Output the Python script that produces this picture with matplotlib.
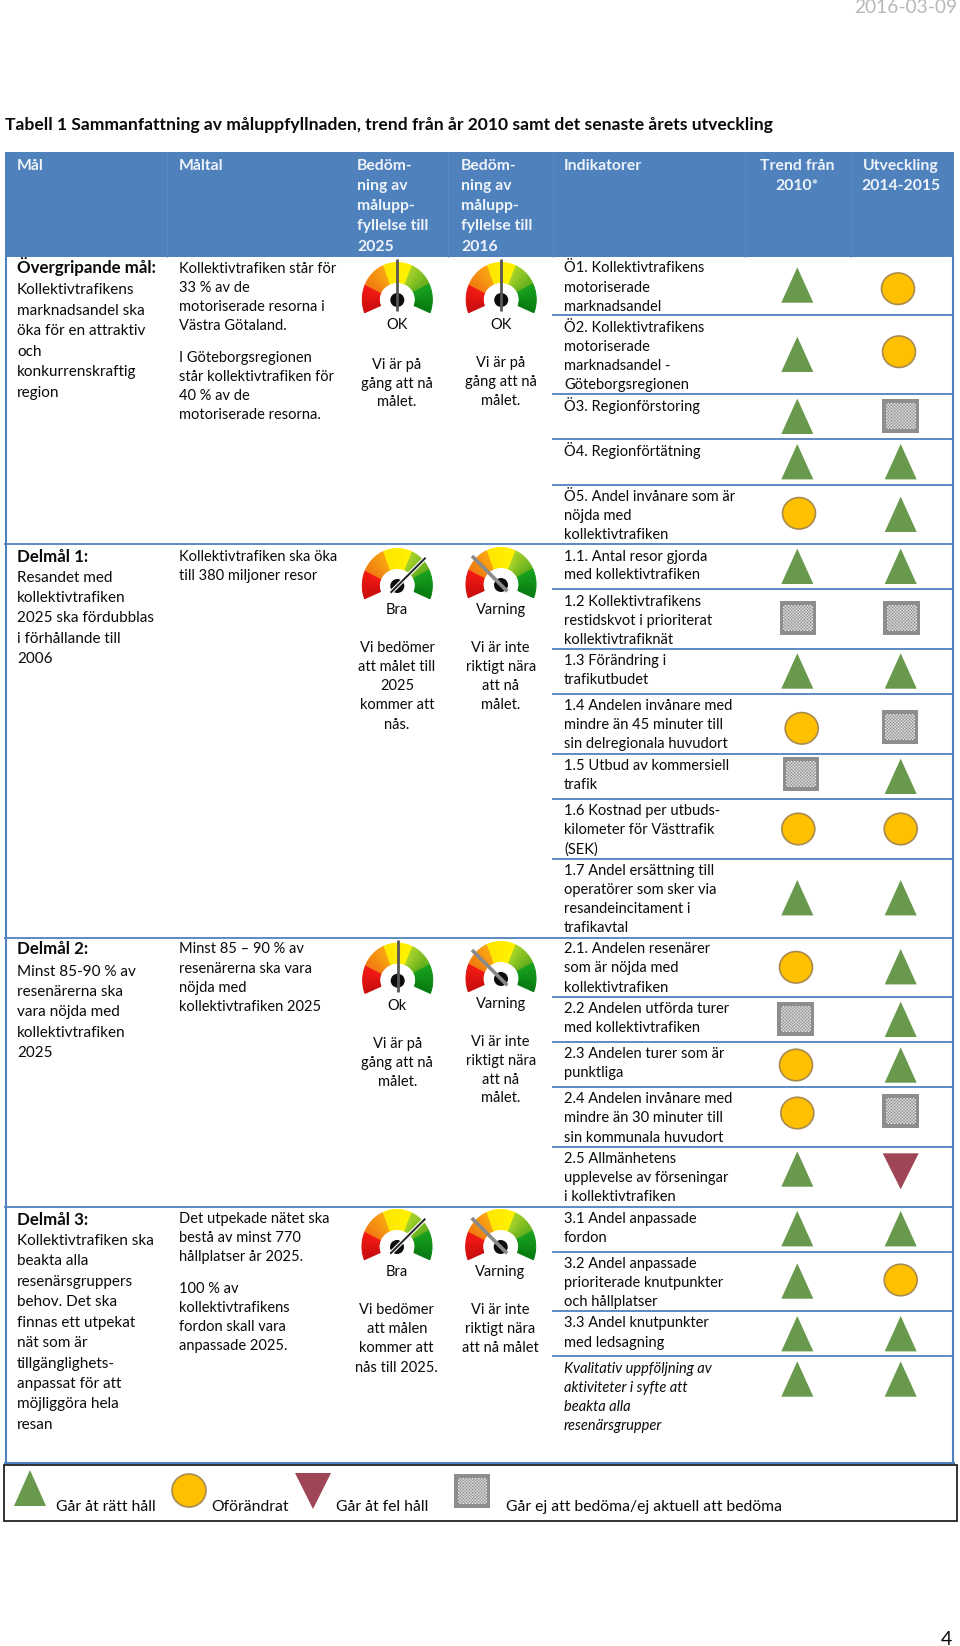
import numpy as np
import matplotlib
matplotlib.use("Agg")
import matplotlib.pyplot as plt
from matplotlib.patches import Polygon, Circle, Rectangle, Ellipse

plt.rcParams['font.family'] = ['Lato', 'DejaVu Sans']

# ---------- content ----------
TITLE = "Tabell 1 Sammanfattning av måluppfyllnaden, trend från år 2010 samt det senaste årets utveckling"
DATE = "2016-03-09"
PAGE = "4"

header_assess = [["Bedöm-", "ning av", "målupp-", "fyllelse till", "2025"],
                 ["Bedöm-", "ning av", "målupp-", "fyllelse till", "2016"]]
header_ind = "Indikatorer"
header_trend = ["Trend från", "2010*"]
header_utv = ["Utveckling", "2014-2015"]

goal_cells = [
    ["Övergripande mål:", "Kollektivtrafikens", "marknadsandel ska", "öka för en attraktiv", "och",
     "konkurrenskraftig", "region"],
    ["Delmål 1:", "Resandet med", "kollektivtrafiken", "2025 ska fördubblas", "i förhållande till", "2006"],
    ["Delmål 2:", "Minst 85-90 % av", "resenärerna ska", "vara nöjda med", "kollektivtrafiken", "2025"],
    ["Delmål 3:", "Kollektivtrafiken ska", "beakta alla", "resenärsgruppers", "behov. Det ska",
     "finnas ett utpekat", "nät som är", "tillgänglighets-", "anpassat för att", "möjliggöra hela", "resan"],
]
target_cells = [
    ["Kollektivtrafiken står för", "33 % av de", "motoriserade resorna i", "Västra Götaland."],
    ["I Göteborgsregionen", "står kollektivtrafiken för", "40 % av de", "motoriserade resorna."],
    ["Kollektivtrafiken ska öka", "till 380 miljoner resor"],
    ["Minst 85 – 90 % av", "resenärerna ska vara", "nöjda med", "kollektivtrafiken 2025"],
    ["Det utpekade nätet ska", "bestå av minst 770", "hållplatser år 2025."],
    ["100 % av", "kollektivtrafikens", "fordon skall vara", "anpassade 2025."],
]
gauge_state = ["OK", "OK", "Bra", "Varning", "Ok", "Varning", "Bra", "Varning"]
needle_value = [90, 90, 45, 135, 90, 135, 45, 135]
gauge_notes = [
    ["Vi är på", "gång att nå", "målet."],
    ["Vi är på", "gång att nå", "målet."],
    ["Vi bedömer", "att målet till", "2025", "kommer att", "nås."],
    ["Vi är inte", "riktigt nära", "att nå", "målet."],
    ["Vi är på", "gång att nå", "målet."],
    ["Vi är inte", "riktigt nära", "att nå", "målet."],
    ["Vi bedömer", "att målen", "kommer att", "nås till 2025."],
    ["Vi är inte", "riktigt nära", "att nå målet"],
]
indicators = [
    ["Ö1. Kollektivtrafikens", "motoriserade", "marknadsandel"],
    ["Ö2. Kollektivtrafikens", "motoriserade", "marknadsandel -", "Göteborgsregionen"],
    ["Ö3. Regionförstoring"],
    ["Ö4. Regionförtätning"],
    ["Ö5. Andel invånare som är", "nöjda med", "kollektivtrafiken"],
    ["1.1. Antal resor gjorda", "med kollektivtrafiken"],
    ["1.2 Kollektivtrafikens", "restidskvot i prioriterat", "kollektivtrafiknät"],
    ["1.3 Förändring i", "trafikutbudet"],
    ["1.4 Andelen invånare med", "mindre än 45 minuter till", "sin delregionala huvudort"],
    ["1.5 Utbud av kommersiell", "trafik"],
    ["1.6 Kostnad per utbuds-", "kilometer för Västtrafik", "(SEK)"],
    ["1.7 Andel ersättning till", "operatörer som sker via", "resandeincitament i", "trafikavtal"],
    ["2.1. Andelen resenärer", "som är nöjda med", "kollektivtrafiken"],
    ["2.2 Andelen utförda turer", "med kollektivtrafiken"],
    ["2.3 Andelen turer som är", "punktliga"],
    ["2.4 Andelen invånare med", "mindre än 30 minuter till", "sin kommunala huvudort"],
    ["2.5 Allmänhetens", "upplevelse av förseningar", "i kollektivtrafiken"],
    ["3.1 Andel anpassade", "fordon"],
    ["3.2 Andel anpassade", "prioriterade knutpunkter", "och hållplatser"],
    ["3.3 Andel knutpunkter", "med ledsagning"],
    ["Kvalitativ uppföljning av", "aktiviteter i syfte att", "beakta alla", "resenärsgrupper"],
]
trend_symbols = ["up", "up", "up", "up", "flat", "up", "box", "up", "flat", "box", "flat", "up",
                 "flat", "box", "flat", "flat", "up", "up", "up", "up", "up"]
utv_symbols = ["flat", "flat", "box", "up", "up", "up", "box", "up", "box", "up", "flat", "up",
               "up", "up", "up", "box", "down", "up", "flat", "up", "up"]
legend_labels = ["Går åt rätt håll", "Oförändrat", "Går åt fel håll", "Går ej att bedöma/ej aktuell att bedöma"]
legend_symbols = ["up", "flat", "down", "box"]

# ---------- layout (page pixels) ----------
goal_y = [[273, 294, 315, 335, 356, 376, 397], [561.5, 582, 602, 622, 642.5, 663],
          [954.4, 975.8, 996.4, 1016.4, 1037, 1057],
          [1224.8, 1244.7, 1265.4, 1286, 1306.4, 1326.7, 1347, 1367.7, 1388.3, 1408.3, 1428.6]]
target_y = [[272.7, 291.7, 311, 329.5], [361.7, 380.5, 399.5, 419], [561, 580],
            [953.4, 972.7, 992, 1011.3], [1223, 1242, 1261], [1292.6, 1312, 1331, 1350]]
gauge_xy = [(397.3, 300), (501.2, 300), (397.3, 586), (501, 585), (397.7, 980.7), (501, 979), (397, 1247), (500.7, 1247)]
state_y = [329, 329, 614, 614, 1010, 1007.8, 1276.4, 1276.4]
notes_y = [[368.7, 387.5, 406], [366.7, 385.5, 404.5], [652, 671, 690, 709, 729], [652, 671, 690, 709],
           [1048, 1067.4, 1086.3], [1045.7, 1064.6, 1084, 1102.5], [1314.3, 1333.2, 1352.5, 1371.8], [1314.3, 1333.2, 1352.5]]
ind_y = [[272.3, 291.7, 310.7], [332.3, 351, 370, 389.3], [410.7], [455.7], [500.7, 520, 539.3], [560.7, 579.3],
         [605.7, 624.7, 644], [665.3, 684.3], [710.3, 729.3, 748.3], [770, 789], [815.3, 834.3, 853.3],
         [875, 894, 913, 932.3], [953.3, 972.3, 991.7], [1013.3, 1032], [1058.3, 1077.3],
         [1103.3, 1122.3, 1141.7], [1163.3, 1182.3, 1201], [1223, 1241.7], [1268, 1287, 1306], [1327.3, 1346.7],
         [1373.3, 1392, 1411, 1430]]
trend_xy = [(797.3, 285), (797.3, 354.3), (797.3, 416.3), (797.3, 461.7), (799, 513.3), (797.3, 566.3), (798, 617.7),
            (797.3, 671), (801.7, 728.3), (801, 774.3), (798.3, 829), (797.3, 897.7), (796, 967.3), (795.3, 1019.3),
            (796, 1065), (797.3, 1113), (797.3, 1169), (797.3, 1228.7), (797.3, 1281), (797.3, 1333.7), (797.3, 1379)]
utv_xy = [(898, 288.7), (899, 351.7), (900.7, 415.7), (900.7, 461.7), (900.7, 514.3), (900.7, 566.3), (901.7, 617.7),
          (900.7, 671), (900, 727.3), (900.7, 776.3), (900.7, 829), (900.7, 897.7), (900.7, 966.7), (900.7, 1019.3),
          (900.7, 1065), (900.3, 1110.7), (900.7, 1171.3), (900.7, 1228.7), (900.7, 1280), (900.7, 1333.7), (900.7, 1379)]
partial_rules = [315, 394, 439, 485, 589, 649, 694, 754, 799, 859, 997, 1042, 1087, 1147, 1252, 1311, 1356]
full_rules = [544, 937.5, 1206.5]
legend_xy = [(30, 1488), (189, 1490.5), (313, 1491), (472, 1491)]
legend_size = [(32, 36), (34, 33), (36, 36), (36.5, 34)]
legend_text_x = [56, 211, 335.5, 506]

BLUE = "#4F81BD"
GREEN = "#68994C"
AMBER = "#FFC000"
WINE = "#9E4655"
FS_HEAD = 11.3
FS_GOAL = 11.0
FS_GOAL_BOLD = 12.2
FS_CELL = 10.5
FS_LEGEND = 11.3

fig = plt.figure(figsize=(9.6, 16.46), dpi=100)
ax = fig.add_axes([0, 0, 1, 1])
ax.set_xlim(0, 960)
ax.set_ylim(1646, 0)
ax.axis("off")


def lines(x, ys, rows, fs=FS_CELL, color="#0A0A0A", ha="left", weight="normal", style="normal", zorder=6):
    for y, row in zip(ys, rows):
        ax.text(x, y, row, fontsize=fs, color=color, ha=ha, va="baseline", fontweight=weight,
                fontstyle=style, zorder=zorder)


def symbol(kind, x, y, w=None, h=None):
    if kind == "up":
        w, h = w or 32, h or 35.4
        ax.add_patch(Polygon([(x - w / 2, y + h / 2), (x + w / 2, y + h / 2), (x, y - h / 2)], fc=GREEN, ec="none", zorder=4))
    elif kind == "down":
        w, h = w or 36, h or 36
        ax.add_patch(Polygon([(x - w / 2, y - h / 2), (x + w / 2, y - h / 2), (x, y + h / 2)], fc=WINE, ec="none", zorder=4))
    elif kind == "flat":
        w, h = w or 33, h or 31.5
        ax.add_patch(Ellipse((x, y), w, h, fc=AMBER, ec="#A98B4F", lw=1.2, zorder=4))
    else:
        w, h = w or 36.7, h or 34
        ax.add_patch(Rectangle((x - w / 2, y - h / 2), w, h, fc="#8E8E8E", ec="none", zorder=4))
        iw, ih = w - 7.6, h - 8
        nx, ny = int(iw / 1.5), int(ih / 1.5)
        chk = (np.indices((ny, nx)).sum(axis=0) % 2) * 0.5 + 0.48
        ax.imshow(chk, extent=(x - iw / 2, x + iw / 2, y + ih / 2, y - ih / 2), cmap="gray", vmin=0, vmax=1,
                  aspect="auto", interpolation="bilinear", zorder=5)
        ax.set_xlim(0, 960)
        ax.set_ylim(1646, 0)


GAUGE_BANDS = [(201, 156, "#C80C0C", "#F51A14"), (156, 113, "#F07A10", "#F8A612"), (113, 65, "#FFE600", "#FFF200"),
               (65, 25, "#A9D42A", "#62AE1C"), (25, -21, "#18A21E", "#067A10")]


def gauge(cx, cy, value):
    rxo, ryo, rxi, ryi = 35, 37, 18, 17
    yc = cy - 0.5
    for a0, a1, c0, c1 in GAUGE_BANDS:
        edges = np.linspace(a0, a1, 9)
        c0v, c1v = np.array(matplotlib.colors.to_rgb(c0)), np.array(matplotlib.colors.to_rgb(c1))
        for k in range(8):
            t = np.radians(np.linspace(edges[k], edges[k + 1], 5))
            col = c0v + (c1v - c0v) * (k + .5) / 8
            xo, yo = cx + rxo * np.cos(t), yc - ryo * np.sin(t)
            xi, yi = cx + rxi * np.cos(t[::-1]), yc - ryi * np.sin(t[::-1])
            ax.add_patch(Polygon(np.c_[np.r_[xo, xi], np.r_[yo, yi]], fc=col, ec=col, lw=0.7, zorder=3))
    ax.add_patch(Circle((cx, cy), 7, fc="#0C0C0C", ec="none", zorder=4))
    th = np.radians(value)
    dx, dy = np.cos(th), -np.sin(th)
    if value == 90:
        tip, tail, col, lw = 41, 11, "#555555", 2.0
    elif value > 90:
        tip, tail, col, lw = 41, 9, "#8A8A8A", 2.6
    else:
        tip, tail, col, lw = 40, 9.5, "#222222", 1.4
    if value < 90:
        ax.plot([cx - tail * dx, cx + tip * dx], [cy - tail * dy, cy + tip * dy], color="white", lw=3, solid_capstyle="butt", zorder=4.5)
    ax.plot([cx - tail * dx, cx + tip * dx], [cy - tail * dy, cy + tip * dy], color=col, lw=lw, solid_capstyle="butt", zorder=5)


# page furniture
ax.text(957, 13, DATE, fontsize=13.8, color="#B8B8B8", ha="right", va="baseline")
ax.text(5, 130, TITLE, fontsize=12.6, color="#0A0A0A", fontweight="bold", va="baseline")
ax.text(952, 1645, PAGE, fontsize=14, color="#0A0A0A", ha="right", va="baseline")

# header
ax.add_patch(Rectangle((4.5, 152), 949, 105, fc=BLUE, ec="none", zorder=1))
for xd in (167, 448, 553, 745, 851):
    ax.plot([xd, xd], [152, 257], color="#5B8BC4", lw=0.6, zorder=1.2)
HEAD_Y = [170, 190, 210, 230, 251]
lines(17, HEAD_Y, ["Mål"], FS_HEAD, "#EEF3F9", weight="bold")
lines(179, HEAD_Y, ["Måltal"], FS_HEAD, "#EEF3F9", weight="bold")
lines(357, HEAD_Y, header_assess[0], FS_HEAD, "#EEF3F9", weight="bold")
lines(461, HEAD_Y, header_assess[1], FS_HEAD, "#EEF3F9", weight="bold")
lines(564, HEAD_Y, [header_ind], FS_HEAD, "#EEF3F9", weight="bold")
lines(797, HEAD_Y, header_trend, FS_HEAD, "#EEF3F9", ha="center", weight="bold")
lines(901, HEAD_Y, header_utv, FS_HEAD, "#EEF3F9", ha="center", weight="bold")

# frame and rules
ax.plot([5.5, 5.5], [257, 1463], color=BLUE, lw=1.5, zorder=2)
ax.plot([953, 953], [257, 1463], color=BLUE, lw=1.5, zorder=2)
ax.plot([5, 953.5], [1463, 1463], color=BLUE, lw=1.5, zorder=2)
for y in full_rules:
    ax.plot([5, 953], [y, y], color=BLUE, lw=1.3, zorder=2)
for y in partial_rules:
    ax.plot([552.7, 953], [y, y], color=BLUE, lw=1.3, zorder=2)

# goal column
for ys, rows in zip(goal_y, goal_cells):
    lines(17, ys[:1], rows[:1], FS_GOAL_BOLD, weight="bold")
    lines(17, ys[1:], rows[1:], FS_GOAL)

# target column
for ys, rows in zip(target_y, target_cells):
    lines(179, ys, rows)

# gauges
for (cx, cy), v, st, sy, note, ny in zip(gauge_xy, needle_value, gauge_state, state_y, gauge_notes, notes_y):
    gauge(cx, cy, v)
    lines(cx - 0.3, [sy], [st], ha="center")
    lines(cx - 0.3, ny, note, ha="center")

# indicators
for i, (ys, rows) in enumerate(zip(ind_y, indicators)):
    lines(564, ys, rows, style="italic" if i == len(indicators) - 1 else "normal")
for k, p in zip(trend_symbols, trend_xy):
    symbol(k, *p)
for k, p in zip(utv_symbols, utv_xy):
    symbol(k, *p)

# legend
ax.add_patch(Rectangle((3.5, 1464.5), 953, 56, fc="white", ec="#222222", lw=1.3, zorder=2))
for k, p, s, tx, lab in zip(legend_symbols, legend_xy, legend_size, legend_text_x, legend_labels):
    symbol(k, p[0], p[1], s[0], s[1])
    ax.text(tx, 1511, lab, fontsize=FS_LEGEND, color="#0A0A0A", va="baseline", zorder=6)

fig.savefig("out.png", dpi=100, facecolor="white")
